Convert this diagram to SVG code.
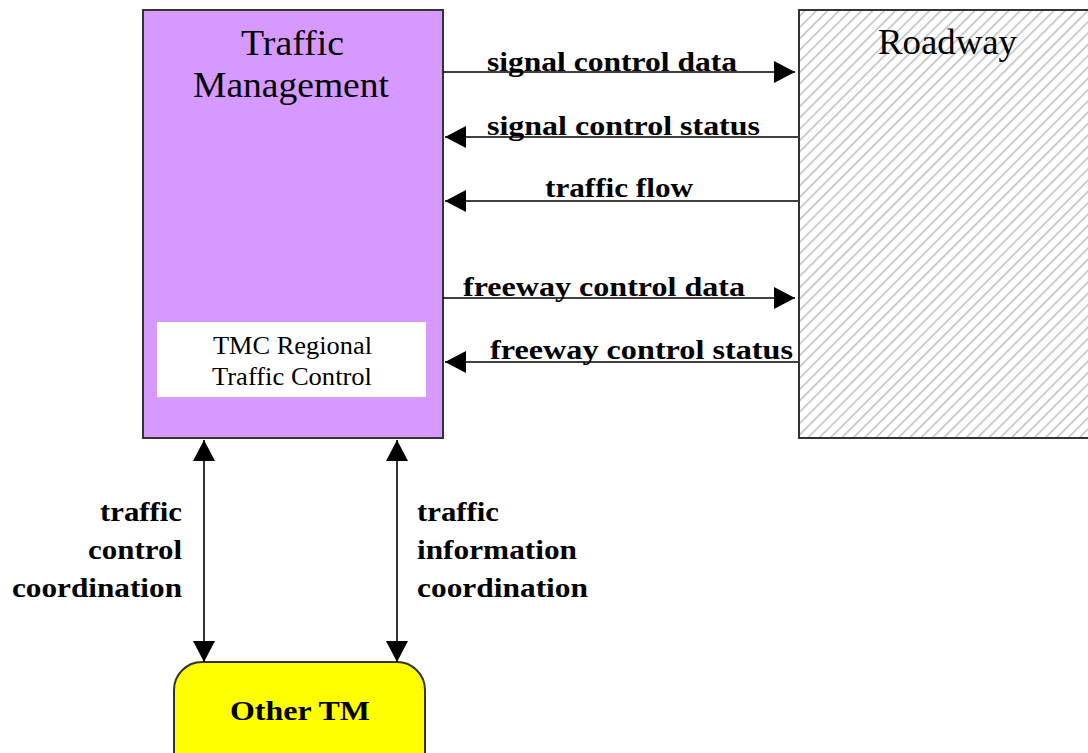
<svg xmlns="http://www.w3.org/2000/svg" width="1088" height="753" viewBox="0 0 1088 753">
  <style>
    .box { stroke: #333333; stroke-width: 2; }
    .title { font-family: "Liberation Serif", "Times New Roman", serif; font-size: 35px; fill: #000; }
    .inner { font-family: "Liberation Serif", "Times New Roman", serif; font-size: 25px; fill: #000; }
    .lbl { font-family: "Liberation Serif", "Times New Roman", serif; font-size: 27px; font-weight: bold; fill: #000; }
    .flow { stroke: #000; stroke-width: 1.6; fill: none; }
  </style>
  <defs>
    <pattern id="hatch" patternUnits="userSpaceOnUse" width="8" height="8" patternTransform="rotate(45)">
      <rect width="8" height="8" fill="#ffffff"/>
      <line x1="0" y1="0" x2="0" y2="8" stroke="#bdbdbd" stroke-width="3"/>
    </pattern>
    <marker id="head" markerUnits="userSpaceOnUse" markerWidth="23" markerHeight="24" viewBox="0 0 23 24" refX="22" refY="12" orient="auto-start-reverse">
      <path d="M1,1 L22,12 L1,23 z" fill="#000"/>
    </marker>
  </defs>

  <!-- Traffic Management subsystem -->
  <g id="traffic-management">
    <rect class="box" x="143" y="10" width="300" height="428" fill="#d699ff"/>
    <text class="title" x="241" y="55" textLength="103" lengthAdjust="spacingAndGlyphs">Traffic</text>
    <text class="title" x="193" y="97" textLength="196" lengthAdjust="spacingAndGlyphs">Management</text>
  </g>

  <!-- Equipment package inside Traffic Management -->
  <g id="tmc-regional-traffic-control">
    <rect x="157" y="322" width="269" height="75" fill="#ffffff"/>
    <text class="inner" x="213" y="354" textLength="159" lengthAdjust="spacingAndGlyphs">TMC Regional</text>
    <text class="inner" x="212" y="385" textLength="160" lengthAdjust="spacingAndGlyphs">Traffic Control</text>
  </g>

  <!-- Roadway terminator -->
  <g id="roadway">
    <rect class="box" x="799" y="10" width="300" height="428" fill="url(#hatch)"/>
    <text class="title" x="878" y="54" textLength="139" lengthAdjust="spacingAndGlyphs">Roadway</text>
  </g>

  <!-- Other Traffic Management terminator -->
  <g id="other-tm">
    <rect class="box" x="174" y="662" width="251" height="130" rx="28" ry="28" fill="#ffff00"/>
    <text class="lbl" x="230" y="720" textLength="140" lengthAdjust="spacingAndGlyphs">Other TM</text>
  </g>

  <!-- Flows -->
  <g id="connectors">
    <line class="flow" x1="443" y1="72" x2="795" y2="72" marker-end="url(#head)"/>
    <line class="flow" x1="798" y1="137" x2="445" y2="137" marker-end="url(#head)"/>
    <line class="flow" x1="798" y1="201" x2="445" y2="201" marker-end="url(#head)"/>
    <line class="flow" x1="443" y1="298" x2="795" y2="298" marker-end="url(#head)"/>
    <line class="flow" x1="798" y1="362" x2="445" y2="362" marker-end="url(#head)"/>
    <line class="flow" x1="204" y1="440" x2="204" y2="662" marker-start="url(#head)" marker-end="url(#head)"/>
    <line class="flow" x1="397" y1="440" x2="397" y2="662" marker-start="url(#head)" marker-end="url(#head)"/>

    <text class="lbl" x="487" y="71" textLength="250" lengthAdjust="spacingAndGlyphs">signal control data</text>
    <text class="lbl" x="487" y="135" textLength="273" lengthAdjust="spacingAndGlyphs">signal control status</text>
    <text class="lbl" x="545" y="197" textLength="148" lengthAdjust="spacingAndGlyphs">traffic flow</text>
    <text class="lbl" x="463" y="296" textLength="282" lengthAdjust="spacingAndGlyphs">freeway control data</text>
    <text class="lbl" x="490" y="359" textLength="303" lengthAdjust="spacingAndGlyphs">freeway control status</text>

    <text class="lbl" x="100" y="521" textLength="82" lengthAdjust="spacingAndGlyphs">traffic</text>
    <text class="lbl" x="88" y="559" textLength="94" lengthAdjust="spacingAndGlyphs">control</text>
    <text class="lbl" x="12" y="597" textLength="170" lengthAdjust="spacingAndGlyphs">coordination</text>

    <text class="lbl" x="417" y="521" textLength="82" lengthAdjust="spacingAndGlyphs">traffic</text>
    <text class="lbl" x="417" y="559" textLength="160" lengthAdjust="spacingAndGlyphs">information</text>
    <text class="lbl" x="417" y="597" textLength="171" lengthAdjust="spacingAndGlyphs">coordination</text>
  </g>
</svg>
